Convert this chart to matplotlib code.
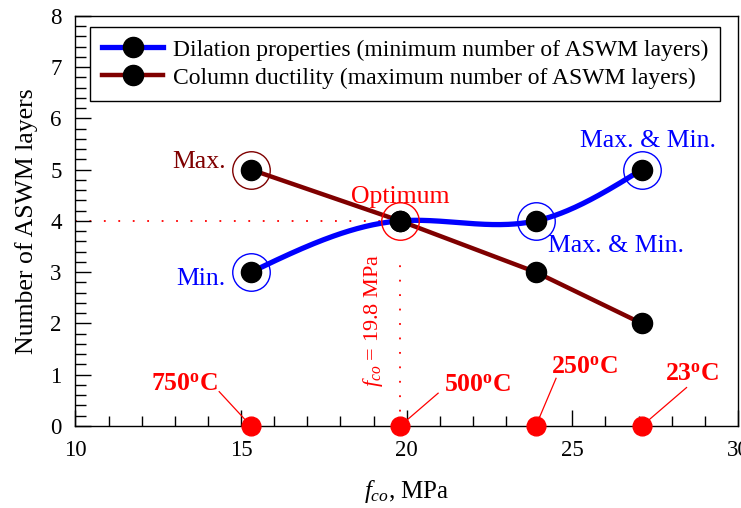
import numpy as np
import matplotlib
matplotlib.use("Agg")
import matplotlib.pyplot as plt

plt.rcParams['font.family'] = ['Liberation Serif', 'DejaVu Serif']
plt.rcParams['mathtext.fontset'] = 'custom'
plt.rcParams['mathtext.rm'] = 'Liberation Serif'
plt.rcParams['mathtext.it'] = 'Liberation Serif:italic'
plt.rcParams['mathtext.bf'] = 'Liberation Serif:bold'

# ---- data ----
fco = [15.3, 19.8, 23.9, 27.1]                 # MPa
dilation_layers = [3, 4, 4, 5]                  # minimum number of ASWM layers
ductility_layers = [5, 4, 3, 2]                 # maximum number of ASWM layers
temperatures = ['750', '500', '250', '23']
optimum_fco = 19.8
optimum_layers = 4

BLUE = '#0000FF'
MAROON = '#7F0000'
RED = '#FF0000'


def natural_spline(xs, ys, n=200):
    xs = np.asarray(xs, float)
    ys = np.asarray(ys, float)
    m = len(xs)
    h = np.diff(xs)
    A = np.zeros((m, m))
    b = np.zeros(m)
    A[0, 0] = 1
    A[-1, -1] = 1
    for i in range(1, m - 1):
        A[i, i - 1] = h[i - 1]
        A[i, i] = 2 * (h[i - 1] + h[i])
        A[i, i + 1] = h[i]
        b[i] = 6 * ((ys[i + 1] - ys[i]) / h[i] - (ys[i] - ys[i - 1]) / h[i - 1])
    M = np.linalg.solve(A, b)
    t = np.linspace(xs[0], xs[-1], n)
    out = np.empty_like(t)
    for k, tv in enumerate(t):
        i = min(np.searchsorted(xs, tv, side='right') - 1, m - 2)
        x0, x1 = xs[i], xs[i + 1]
        hi = x1 - x0
        a = (x1 - tv) / hi
        c = (tv - x0) / hi
        out[k] = (a * ys[i] + c * ys[i + 1]
                  + ((a ** 3 - a) * M[i] + (c ** 3 - c) * M[i + 1]) * hi ** 2 / 6)
    return t, out


fig = plt.figure(figsize=(7.41, 5.08), dpi=100)
ax = fig.add_axes([0.1018, 0.1614, 0.894, 0.8076])
ax.set_xlim(10, 30)
ax.set_ylim(0, 8)

# guide lines
ax.plot([10, optimum_fco - 0.55], [optimum_layers, optimum_layers], color=RED,
        lw=1.3, linestyle=(0, (1, 7)), zorder=1)
ax.plot([optimum_fco, optimum_fco], [0, optimum_layers - 0.7], color=RED,
        lw=1.3, linestyle=(0, (1, 7)), zorder=1)

# series lines
ax.plot(fco, ductility_layers, color=MAROON, lw=3.2, zorder=2)
sx, sy = natural_spline(fco, dilation_layers)
ax.plot(sx, sy, color=BLUE, lw=3.8, zorder=3)
ax.plot(fco, ductility_layers, 'o', color='black', ms=14.5, zorder=5)
ax.plot(fco, dilation_layers, 'o', color='black', ms=14.5, zorder=5)

# legend proxies
h1, = ax.plot([], [], color=BLUE, lw=3.8, marker='o', mfc='black', mec='black', ms=14.5)
h2, = ax.plot([], [], color=MAROON, lw=3.2, marker='o', mfc='black', mec='black', ms=14.5)
leg = ax.legend([h1, h2], ['Dilation properties (minimum number of ASWM layers)',
                           'Column ductility (maximum number of ASWM layers)'],
                loc='upper left', bbox_to_anchor=(0.022, 0.972), fontsize=17,
                frameon=True, fancybox=False, edgecolor='black', framealpha=1,
                handlelength=2.6, handletextpad=0.4, borderpad=0.5,
                labelspacing=0.28, borderaxespad=0)
leg.get_frame().set_linewidth(1.0)

# rings
ring = dict(marker='o', mfc='none', ms=27, mew=1.0, linestyle='none', zorder=6)
ax.plot([fco[0]], [ductility_layers[0]], mec=MAROON, **ring)
ax.plot([fco[0]], [dilation_layers[0]], mec=BLUE, **ring)
ax.plot([fco[1]], [dilation_layers[1]], mec=RED, **ring)
ax.plot([fco[2]], [dilation_layers[2]], mec=BLUE, **ring)
ax.plot([fco[3]], [dilation_layers[3]], mec=BLUE, **ring)

# annotations
tfs = 18.5
ax.text(14.54, 5.03, 'Max.', color=MAROON, fontsize=tfs, ha='right', va='baseline')
ax.text(14.54, 2.74, 'Min.', color=BLUE, fontsize=tfs, ha='right', va='baseline')
ax.text(19.80, 4.35, 'Optimum', color=RED, fontsize=tfs, ha='center', va='baseline')
ax.text(27.30, 5.45, 'Max. & Min.', color=BLUE, fontsize=tfs, ha='center', va='baseline')
ax.text(24.26, 3.39, 'Max. & Min.', color=BLUE, fontsize=tfs, ha='left', va='baseline')
ax.text(18.97, 2.05, r'$f_{co}$ = 19.8 MPa', color=RED, fontsize=16, rotation=90,
        ha='center', va='center')

# temperature markers on the axis
ax.plot(fco, [0] * len(fco), 'o', color=RED, ms=13.5, clip_on=False, zorder=7)
label_xy = [(13.29, 0.70), (22.15, 0.67), (25.37, 1.03), (28.62, 0.88)]
line_start = [(14.34, 0.67), (20.95, 0.64), (24.51, 0.93), (28.45, 0.75)]
for t, xv, (lx, ly), (sx0, sy0) in zip(temperatures, fco, label_xy, line_start):
    ax.text(lx, ly, r'$\mathbf{' + t + r'^{o}C}$', color=RED, fontsize=18.5,
            ha='center', va='baseline')
    ax.plot([sx0, xv], [sy0, 0], color=RED, lw=0.9, zorder=4)

# axes styling
ax.set_xticks([10, 15, 20, 25, 30])
ax.set_xticks(np.arange(10, 31, 1), minor=True)
ax.set_yticks(np.arange(0, 9, 1))
ax.set_yticks(np.arange(0, 8.01, 0.2), minor=True)
ax.tick_params(which='both', direction='in', top=False, right=False, labelsize=16.5)
ax.tick_params(which='major', length=11.5, width=1.0)
ax.tick_params(axis='y', which='minor', length=8, width=1.0)
ax.tick_params(axis='x', which='minor', length=7, width=1.0)
ax.tick_params(axis='x', pad=10)
ax.tick_params(axis='y', pad=10)
for s in ax.spines.values():
    s.set_linewidth(1.0)

ax.set_xlabel(r'$f_{co}$, MPa', fontsize=18, labelpad=12)
ax.set_ylabel('Number of ASWM layers', fontsize=18.5, labelpad=9)

fig.savefig('out.png', dpi=100)
